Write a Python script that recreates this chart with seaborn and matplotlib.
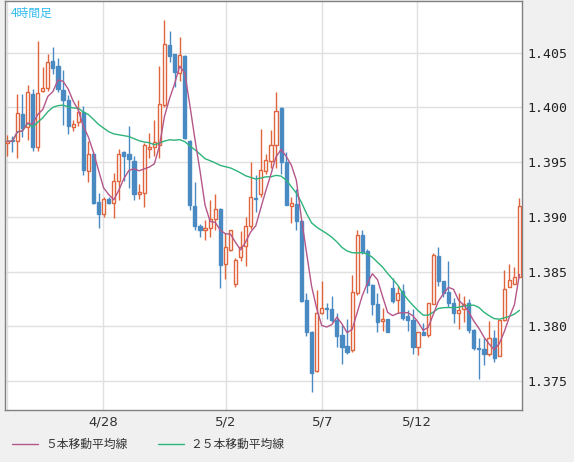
"""
4h candlestick chart with 5 / 25 period moving averages.
"""
import matplotlib
matplotlib.use("Agg")
import matplotlib.pyplot as plt
from matplotlib.lines import Line2D
import numpy as np
import pandas as pd
import seaborn as sns

# OHLC (4h candles)
opens = [1.3967, 1.3970, 1.3969, 1.3994, 1.3982, 1.4012, 1.3964, 1.4015, 1.4018, 1.4042,
         1.4038, 1.4016, 1.4007, 1.3982, 1.3987, 1.3996, 1.3942, 1.3957, 1.3914, 1.3903,
         1.3916, 1.3913, 1.3933, 1.3959, 1.3957, 1.3951, 1.3921, 1.3922, 1.3962, 1.3964,
         1.3966, 1.4002, 1.4057, 1.4049, 1.4031, 1.4047, 1.3969, 1.3910, 1.3892, 1.3888,
         1.3890, 1.3898, 1.3907, 1.3857, 1.3870, 1.3839, 1.3863, 1.3873, 1.3892, 1.3917,
         1.3921, 1.3942, 1.3951, 1.3966, 1.3999, 1.3950, 1.3910, 1.3912, 1.3896, 1.3824,
         1.3795, 1.3759, 1.3812, 1.3817, 1.3816, 1.3806, 1.3792, 1.3782, 1.3778, 1.3830,
         1.3883, 1.3869, 1.3838, 1.3820, 1.3805, 1.3807, 1.3835, 1.3824, 1.3832, 1.3809,
         1.3806, 1.3781, 1.3795, 1.3792, 1.3820, 1.3864, 1.3841, 1.3831, 1.3821, 1.3812,
         1.3816, 1.3821, 1.3797, 1.3780, 1.3779, 1.3775, 1.3789, 1.3773, 1.3806, 1.3836,
         1.3839, 1.3845]
highs = [1.3975, 1.3974, 1.4012, 1.4012, 1.4020, 1.4017, 1.4061, 1.4037, 1.4049, 1.4055,
         1.4045, 1.4034, 1.4011, 1.3988, 1.4007, 1.4001, 1.3969, 1.3959, 1.3922, 1.3918,
         1.3918, 1.3940, 1.3962, 1.3960, 1.3983, 1.3956, 1.3930, 1.3967, 1.3977, 1.3988,
         1.4038, 1.4080, 1.4070, 1.4049, 1.4064, 1.4048, 1.3970, 1.3932, 1.3893, 1.3897,
         1.3915, 1.3921, 1.3908, 1.3885, 1.3888, 1.3862, 1.3887, 1.3900, 1.3950, 1.3938,
         1.3980, 1.3957, 1.3979, 1.4014, 1.4000, 1.3959, 1.3918, 1.3925, 1.3897, 1.3830,
         1.3796, 1.3833, 1.3841, 1.3821, 1.3828, 1.3812, 1.3801, 1.3807, 1.3847, 1.3888,
         1.3888, 1.3871, 1.3839, 1.3830, 1.3817, 1.3807, 1.3844, 1.3837, 1.3839, 1.3815,
         1.3816, 1.3795, 1.3803, 1.3821, 1.3867, 1.3872, 1.3841, 1.3860, 1.3826, 1.3830,
         1.3828, 1.3825, 1.3798, 1.3789, 1.3789, 1.3805, 1.3797, 1.3806, 1.3851, 1.3857,
         1.3854, 1.3917]
lows = [1.3956, 1.3959, 1.3954, 1.3973, 1.3970, 1.3960, 1.3960, 1.4014, 1.4015, 1.4030,
        1.4014, 1.3984, 1.3976, 1.3978, 1.3983, 1.3938, 1.3932, 1.3912, 1.3890, 1.3900,
        1.3912, 1.3899, 1.3915, 1.3933, 1.3926, 1.3915, 1.3916, 1.3909, 1.3954, 1.3956,
        1.3954, 1.4000, 1.4041, 1.4019, 1.4024, 1.3971, 1.3906, 1.3888, 1.3882, 1.3879,
        1.3882, 1.3888, 1.3835, 1.3843, 1.3869, 1.3836, 1.3860, 1.3855, 1.3889, 1.3904,
        1.3918, 1.3939, 1.3945, 1.3945, 1.3939, 1.3911, 1.3894, 1.3888, 1.3822, 1.3791,
        1.3740, 1.3758, 1.3811, 1.3807, 1.3804, 1.3781, 1.3766, 1.3775, 1.3777, 1.3829,
        1.3866, 1.3830, 1.3810, 1.3795, 1.3796, 1.3795, 1.3821, 1.3812, 1.3806, 1.3796,
        1.3775, 1.3774, 1.3792, 1.3790, 1.3820, 1.3837, 1.3827, 1.3818, 1.3803, 1.3798,
        1.3804, 1.3794, 1.3778, 1.3752, 1.3765, 1.3773, 1.3767, 1.3773, 1.3805, 1.3836,
        1.3839, 1.3845]
closes = [1.3969, 1.3969, 1.3995, 1.3981, 1.4014, 1.3964, 1.4013, 1.4018, 1.4041, 1.4036,
          1.4017, 1.4007, 1.3983, 1.3985, 1.3996, 1.3943, 1.3957, 1.3913, 1.3903, 1.3916,
          1.3913, 1.3933, 1.3957, 1.3956, 1.3953, 1.3921, 1.3923, 1.3966, 1.3964, 1.3968,
          1.4003, 1.4058, 1.4047, 1.4032, 1.4048, 1.3972, 1.3911, 1.3892, 1.3888, 1.3890,
          1.3898, 1.3907, 1.3856, 1.3872, 1.3888, 1.3861, 1.3872, 1.3892, 1.3918, 1.3916,
          1.3943, 1.3952, 1.3966, 1.3997, 1.3950, 1.3911, 1.3913, 1.3896, 1.3823, 1.3795,
          1.3757, 1.3812, 1.3817, 1.3816, 1.3806, 1.3791, 1.3781, 1.3777, 1.3831, 1.3883,
          1.3868, 1.3838, 1.3820, 1.3804, 1.3807, 1.3795, 1.3823, 1.3830, 1.3808, 1.3806,
          1.3781, 1.3795, 1.3792, 1.3821, 1.3865, 1.3841, 1.3830, 1.3821, 1.3812, 1.3815,
          1.3820, 1.3797, 1.3780, 1.3779, 1.3775, 1.3789, 1.3771, 1.3806, 1.3834, 1.3842,
          1.3845, 1.3910]

day_positions = [0.0, 18.9, 43.1, 62.1, 80.8]
day_labels = ["", "4/28", "5/2", "5/7", "5/12"]
price_ticks = [1.375, 1.380, 1.385, 1.390, 1.395, 1.400, 1.405]

UP = "#e0643c"
DOWN = "#4a8ac2"
MA5_COLOR = "#b4578a"
MA25_COLOR = "#2eb37a"

df = pd.DataFrame({"open": opens, "high": highs, "low": lows, "close": closes})
df["idx"] = np.arange(len(df))
df["ma5"] = df["close"].rolling(5, min_periods=1).mean()
df["ma25"] = df["close"].rolling(25, min_periods=1).mean()

sns.set_theme(style="white")
plt.rcParams["font.family"] = ["DejaVu Sans"]

fig = plt.figure(figsize=(5.74, 4.62), dpi=100, facecolor="#f0f0f0")
ax = fig.add_axes([5 / 574, 1 - 410 / 462, 517 / 574, 409 / 462])
ax.set_facecolor("white")

up = df["close"] >= df["open"]
for is_up, sub in [(True, df[up]), (False, df[~up])]:
    col = UP if is_up else DOWN
    ax.vlines(sub["idx"], sub["low"], sub["high"], color=col, linewidth=1, zorder=2)
    bottom = np.minimum(sub["open"], sub["close"])
    height = np.maximum((sub["close"] - sub["open"]).abs(), 0.00005)
    ax.bar(sub["idx"], height, bottom=bottom, width=0.62,
           facecolor="white" if is_up else DOWN, edgecolor=col, linewidth=1, zorder=3)

sns.lineplot(data=df, x="idx", y="ma25", color=MA25_COLOR, linewidth=1, ax=ax, zorder=4)
sns.lineplot(data=df, x="idx", y="ma5", color=MA5_COLOR, linewidth=1, ax=ax, zorder=4)

ax.set_xlim(-0.45, 101.5)
ax.set_ylim(1.37236, 1.40971)
ax.set_xticks(day_positions)
ax.set_xticklabels(day_labels, fontsize=9.5, color="#333333")
ax.set_yticks(price_ticks)
ax.set_yticklabels([f"{p:.3f}" for p in price_ticks], family="DejaVu Sans Mono",
                   fontsize=9.5, color="#222222")
ax.yaxis.tick_right()
ax.tick_params(axis="both", length=0, pad=4)
ax.set_xlabel("")
ax.set_ylabel("")
ax.grid(True, color="#e0e0e0", linewidth=1)
ax.set_axisbelow(True)
for s in ax.spines.values():
    s.set_color("#808080")
    s.set_linewidth(1)

ax.text(0.012, 0.985, "4時間足", transform=ax.transAxes, ha="left", va="top",
        fontsize=8.5, color="#33bbee", family=["Noto Sans CJK JP", "DejaVu Sans"])

# legend below the plot
for x0, x1, tx, col, label in [(12, 38, 45, MA5_COLOR, "５本移動平均線"),
                               (158, 184, 190, MA25_COLOR, "２５本移動平均線")]:
    fig.add_artist(Line2D([x0 / 574, x1 / 574], [1 - 444 / 462] * 2, color=col, linewidth=1))
    fig.text(tx / 574, 1 - 444 / 462, label, ha="left", va="center", fontsize=8.5,
             color="#333333", family=["Noto Sans CJK JP", "DejaVu Sans"])

fig.savefig("out.png", dpi=100, facecolor=fig.get_facecolor())
